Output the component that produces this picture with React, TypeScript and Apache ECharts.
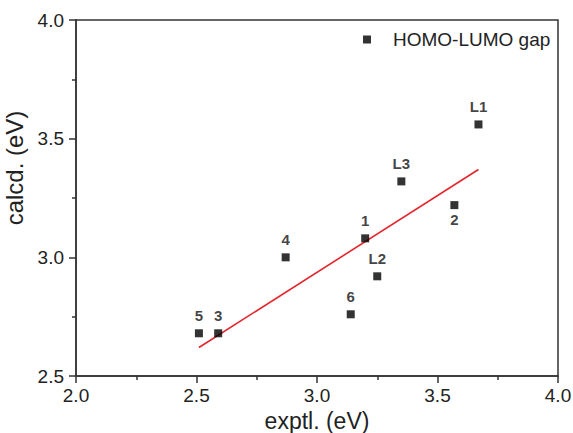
import React, { useEffect, useRef } from "react";
import * as echarts from "echarts";

const pointNames = ["5", "3", "4", "6", "1", "L2", "L3", "2", "L1"];
const exptl = [2.51, 2.59, 2.87, 3.14, 3.2, 3.25, 3.35, 3.57, 3.67];
const calcd = [2.68, 2.68, 3.0, 2.76, 3.08, 2.92, 3.32, 3.22, 3.56];
const labelsBelow = ["2"];
const fitX = [2.51, 3.67];
const fitY = [2.62, 3.37];
const xTicks = [2.0, 2.5, 3.0, 3.5, 4.0];
const yTicks = [2.5, 3.0, 3.5, 4.0];
const seriesName = "HOMO-LUMO gap";

const FONT = "'Liberation Sans', Arial, Helvetica, sans-serif";

export default function App() {
  const ref = useRef<HTMLDivElement>(null);
  useEffect(() => {
    if (!ref.current) return;
    const chart = echarts.init(ref.current, null, { renderer: "svg" });
    const axisColor = "#333";
    chart.setOption({
      animation: false,
      backgroundColor: "#fff",
      textStyle: { fontFamily: FONT },
      grid: {
        left: 76,
        right: 15,
        top: 20,
        bottom: 57,
        show: true,
        borderColor: axisColor,
        borderWidth: 1.5,
        backgroundColor: "transparent",
        containLabel: false,
        outerBoundsMode: "none",
      },
      legend: {
        data: [seriesName],
        left: 358,
        top: 25,
        icon: "rect",
        itemWidth: 8,
        itemHeight: 8,
        textStyle: { fontSize: 19, color: "#222", fontFamily: FONT, padding: [0, 0, 0, 17] },
      },
      xAxis: {
        type: "value",
        min: xTicks[0],
        max: xTicks[xTicks.length - 1],
        interval: 0.5,
        name: "exptl. (eV)",
        nameLocation: "middle",
        nameGap: 30,
        nameTextStyle: { fontSize: 23, color: "#222", fontFamily: FONT },
        axisLine: { show: true, lineStyle: { color: axisColor, width: 1.5 } },
        axisTick: { show: true, length: 7, lineStyle: { color: axisColor, width: 1.5 } },
        minorTick: { show: true, splitNumber: 2, length: 4, lineStyle: { color: axisColor, width: 1.5 } },
        splitLine: { show: false },
        axisLabel: {
          fontSize: 19,
          color: "#222",
          margin: 10,
          fontFamily: FONT,
          formatter: (v: number) => v.toFixed(1),
        },
      },
      yAxis: {
        type: "value",
        min: yTicks[0],
        max: yTicks[yTicks.length - 1],
        interval: 0.5,
        name: "calcd. (eV)",
        nameLocation: "middle",
        nameGap: 44,
        nameRotate: 90,
        nameTextStyle: { fontSize: 24, color: "#222", fontFamily: FONT, padding: [0, 0, 0, 60] },
        axisLine: { show: true, lineStyle: { color: axisColor, width: 1.5 } },
        axisTick: { show: true, length: 7, lineStyle: { color: axisColor, width: 1.5 } },
        minorTick: { show: true, splitNumber: 2, length: 4, lineStyle: { color: axisColor, width: 1.5 } },
        splitLine: { show: false },
        axisLabel: {
          fontSize: 19,
          color: "#222",
          margin: 12,
          fontFamily: FONT,
          formatter: (v: number) => v.toFixed(1),
        },
      },
      series: [
        {
          name: "fit",
          type: "line",
          data: fitX.map((x, i) => [x, fitY[i]]),
          symbol: "none",
          lineStyle: { color: "#e3262d", width: 1.6 },
          z: 3,
        },
        {
          name: seriesName,
          type: "scatter",
          symbol: "rect",
          symbolSize: 8,
          itemStyle: { color: "#000" },
          z: 4,
          data: exptl.map((x, i) => ({
            value: [x, calcd[i]],
            name: pointNames[i],
            label: {
              show: true,
              formatter: pointNames[i],
              position: labelsBelow.includes(pointNames[i]) ? "bottom" : "top",
              distance: labelsBelow.includes(pointNames[i]) ? 3 : 6,
              fontSize: 15,
              fontWeight: "bold",
              color: "#111",
              fontFamily: FONT,
            },
          })),
        },
      ],
    });
    return () => chart.dispose();
  }, []);
  return <div ref={ref} style={{ width: 573, height: 433, position: "absolute", left: 0, top: 0 }} />;
}
